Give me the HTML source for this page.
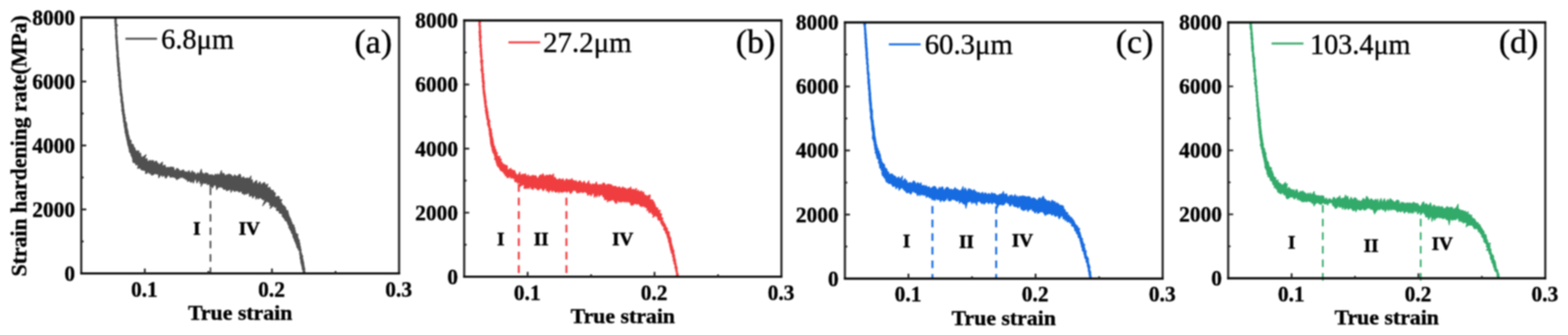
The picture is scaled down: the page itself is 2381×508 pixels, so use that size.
<!DOCTYPE html>
<html lang="en">
<head>
<meta charset="utf-8">
<title>Strain hardening rate vs true strain</title>
<style>
html,body{margin:0;padding:0;background:#fff;}
body{width:2381px;height:508px;overflow:hidden;font-family:"Liberation Serif","DejaVu Serif",serif;}
svg{display:block;}
#fig{width:2381px;height:508px;filter:blur(1px);}
</style>
</head>
<body>
<div id="fig">
<svg width="2381" height="508" viewBox="0 0 2381 508">
<rect width="2381" height="508" fill="#fff"/>
<g id="panel-a">
<path d="M319.6 405.6V414.5M319.6 385.4V396.7M319.6 365.2V376.5M319.6 345V356.3M319.6 324.8V336.1M319.6 304.6V315.9M319.6 284.4V295.7" fill="none" stroke="#505050" stroke-width="2.6"/>
<path d="M176.4 26.5L176.8 28.2L176.4 29.9L176.8 31.6L176.6 33.3L176.6 35.1L177.3 36.7L178.5 38.4L177 40.2L177.3 41.9L177.2 43.6L177.3 45.3L177.7 47L177.5 48.7L177.2 50.4L177.6 52.1L177.6 53.8L177.9 55.5L178.2 57.2L177.7 59L178.1 60.6L178.3 62.3L178.5 64L178.3 65.8L178.8 67.4L178.7 69.2L179.1 70.8L178.9 72.6L179.1 74.3L179 76L179.7 77.6L179.3 79.4L179.6 81.1L179.7 82.8L179.5 84.5L179.8 86.2L180.3 87.8L180.5 89.5L180.4 91.3L180.7 93L180.4 94.7L181.3 96.3L181.1 98L180.8 99.8L181.3 101.5L181.6 103.1L181.5 104.9L181.8 106.6L181.8 108.3L182.3 109.9L182.4 111.6L182.2 113.4L182.5 115L182.7 116.7L182.7 118.4L183.1 120.1L183.3 121.8L183.8 123.5L183.4 125.2L183.7 126.9L183.6 128.6L184 130.3L183.7 132L184.2 133.7L184.3 135.4L184.8 137.1L184.4 138.8L184.9 140.5L185.2 142.2L185.5 143.9L185.6 145.6L185.9 147.2L186.2 148.9L185.9 150.7L186 152.4L186.7 154L186.9 155.7L187.2 157.4L187.3 159.1L187.6 160.8L187.6 162.5L187.6 164.3L188.2 165.9L188.4 167.6L188.3 169.3L188.8 171L188.7 172.7L189.8 174.3L189.3 176.1L189.9 177.7L190.7 179.3L190 181.2L190.2 182.9L190.9 184.5L192 186L192.1 187.7L192.9 189.3L192.4 191.1L192.8 192.8L192.9 194.5L193.6 196.1L194 197.8L194.3 199.5L194.8 201.1L194.2 203L195.4 204.5L195.6 206.2L196.2 207.8L196.6 209.5L196.3 211.3L198.1 212.3L199.2 213.6L199.1 215.8L198.7 218.2L201 218.6L202.6 219.6L202.7 221.4L203.2 223.1L204.8 224.4L205.1 226L205.6 227.6L206.3 229.4L209.4 228.6L211.1 229.2L210.5 232.6L213.5 232.1L213.8 234.2L213.8 236.6L214.5 238.3L217.3 238L221.9 234.6L219.9 240L221 241.4L223.3 240.4L223.6 244.6L225.4 244.9L227.8 243L229.1 244.5L231.3 243.3L232.9 243.7L233.7 247.2L236.3 244.4L238 244.7L238.9 247.6L240.6 248L241.3 251L244.3 247.7L246.9 245.8L246 252.5L248.4 251.1L250.6 250.3L251.3 253L252.3 255.1L254.8 253.6L256.4 254.4L258.4 253.6L260.2 253.3L261.8 253.8L263.5 253.7L264.6 257.4L265.9 260.2L268.5 255.3L270.1 256L271.6 257.3L272.8 259.9L274.6 259.1L276.5 258.6L278.5 257.5L279.7 259.6L280.9 261.6L283.1 260.2L284.2 262.6L287 258.6L288.1 261.5L289.5 263.4L292.1 258.8L293.1 262.6L295.1 261.1L296.5 263.4L297.8 266.1L300.2 261.8L301.6 263.9L303.5 262.5L305.7 256.6L306.8 263.4L308.5 262.7L310.1 265.7L312 262.1L313.7 262.7L315.4 262.8L316.9 266.4L318.7 264.9L320.4 265.7L322.1 264.9L323.7 266.3L325.4 266.6L327.3 264L328.9 266.1L330.7 263.7L332.3 266.1L334.1 263.9L336.2 258.7L337.4 265.3L339.4 262.6L340.9 264.8L342.4 267.6L344.3 265L346 265.4L347.9 263.7L349.5 264.9L351.2 265.3L352.6 267.5L354.2 268.3L356.4 265.1L357.8 267.1L359.6 267.2L361.3 267.2L363.5 264.2L365.2 265L366 269.7L367.6 270.3L369.9 268L371 270.4L372.7 270.8L374.6 270.3L376.5 270L377.7 271.8L381.2 266.9L380.3 275.1L383 272.3L383.5 276.1L384.2 279.7L387.3 275.5L389.8 273.5L390.1 277.9L391.2 279.9L394.6 275.6L395.6 277.8L395.9 281.5L399.1 278.1L401.7 276.6L402.5 279.1L403.5 281.1L406.7 279.1L405.6 284L406.5 285.3L410 283.9L409.9 286.4L411.3 287.5L412.2 289L415.2 288.6L414.9 291.2L416.7 291.8L418.1 292.9L417.8 295.7L417.1 298.8L419.7 298.5L423 297.8L424.4 298.9L423.8 301.4L425.4 302.4L428.1 302.7L426.5 305.7L427.1 307.4L428.1 308.8L428.8 310.4L430 311.6L431.8 312.5L432.8 314L434.1 315.2L433.9 317.3L434.6 318.9L437.1 319.4L437.2 321.3L437.8 322.9L438 324.7L438.7 326.2L438.8 328L439.9 329.4L440.6 331L441.4 332.5L442.2 334L441.9 336L443.6 337.2L443.4 339.1L444.3 340.6L446.6 341.5L445.8 343.6L447.3 344.9L447.8 346.5L447.4 348.5L448.7 349.8L448.3 351.8L449.3 353.3L450.4 354.7L452.6 355.6L451.8 357.8L452.2 359.4L452.6 361.1L453.1 362.7L454.4 364.1L454.6 365.8L454.4 367.7L455.5 369.1L455.5 370.9L455.2 372.7L456.5 374.2L456.2 376L456.7 377.6L457.4 379.2L456.9 381L457 382.8L458.2 384.3L457.7 386.1L459.5 387.5L459.7 389.2L459.2 391L459.8 392.6L460.3 394.3L460.4 396L461.1 397.6L461.3 399.3L461.3 401L461.8 402.7L461.8 404.4L462.3 406.1L463.1 407.7L462.3 409.5L463 411.1L462.9 412.9L464 414.4L460.3 414.5L460.5 412.8L460.3 411.1L459.6 409.5L458.9 407.8L458.9 406.1L458.8 404.4L457.9 402.8L458.1 401L457.1 399.5L456.9 397.8L456.7 396.1L456.6 394.4L456.1 392.7L455.6 391L455.7 389.3L455.9 387.5L454.9 385.9L455.4 384.1L454.7 382.6L455.9 380.4L453.3 379.6L453.1 377.8L452.1 376.3L450.9 375L450.5 373.2L450.4 371.4L449.4 370L449 368.4L448.4 366.8L447.3 365.3L447 363.6L446.5 361.9L445.5 360.5L444.8 359L444.7 357.2L444.9 355.2L443.3 354.2L442.3 352.7L442.6 350.6L441.2 349.4L440.2 348L440 346.2L438.3 345.1L439.5 342.8L437.8 341.6L437.3 339.9L436.5 338.4L436.1 336.7L435.2 335.2L433.1 334.5L432.4 333L432.1 331.1L430.3 330.4L429.8 328.6L428.2 327.7L429.1 324.7L427.6 323.7L425.2 323.5L423.7 322.5L424.4 319.7L422.1 319.5L419.9 319.1L419.7 316.9L421 313.4L417.2 314.6L416.5 312.9L415.3 311.6L410.1 316.1L412.8 309.3L409.4 311.7L409.4 308.2L408.5 306.3L406.4 306.4L406.5 303.2L398.8 312L402.5 303.1L400.6 302.7L398.8 302.8L397.6 301.2L396.1 300.2L394.6 299.5L392.1 301.8L391.4 298.1L388.5 302L388 297.3L386.6 295.8L383.6 300.4L382.9 296.5L381.1 296.5L378.9 297.8L378.4 293.7L377.3 291.6L374.6 294.2L373.1 293.3L370.8 295.2L369.7 293L367.8 293.5L367 289.1L364.9 290.5L363 291.5L361.7 288.9L359.8 289.7L358.4 288.2L356.2 290.5L354.8 288.8L353.5 286.9L350.6 291.7L350.4 285.6L348 288.1L346.2 288.1L344.1 289.4L343.2 286.3L341.2 287L339.4 287L338.3 284.5L336.7 283.8L335 283.3L333.1 283.7L331.4 283.5L328.9 287.7L328.2 282.1L326.9 279.9L325 280.8L322.3 285L321.3 282.2L318.8 283.6L318.7 279.8L317.1 279.2L314.5 280.1L314.8 276.4L311.5 278.4L310.1 277.5L308.4 277.2L305.2 282.7L306.9 270.2L303.8 278.4L302.9 272.3L300.9 274.5L299 277.6L297.7 272.1L296 271.1L293.7 277.8L292.3 273.7L290.2 276.6L288.6 274.9L287.1 273.7L284.9 275.3L284 271.4L282.1 272.4L280.9 269.8L279 270.5L277.8 267.6L275.7 269.6L274.1 267.9L272.1 270.5L270.4 270.7L268.5 272.6L267 270.3L265.4 268.6L263.7 268.8L262.1 267.8L260.3 268.5L258.5 268.8L257.1 266L255.4 265.1L253.4 268.5L251.5 270.2L250.1 266.9L248.6 265L246.6 267.8L245.3 264.4L243.3 266.3L241 269.6L240.7 263L238.7 264.2L237.1 263.7L235.7 262.7L233.3 264.3L231.1 265.6L229.5 264.8L228.7 261.9L226.6 263.1L225.7 259.4L223.1 262.7L221.1 263.3L220.9 258.3L219.3 258.3L217.8 258L215.9 257.8L214.1 257.1L213.8 254.8L211.8 254.5L208.9 255.2L209.9 251.4L209.2 249.6L206.3 250.1L205.9 248.2L205.1 246.7L202.4 246.6L201.8 245L201.4 243.2L201.7 241.2L200.9 239.7L200.6 237.9L199.5 236.5L198.9 234.9L199 233L197.8 231.7L196.5 230.3L196.2 228.6L196.5 226.7L195.4 225.2L195.9 223.3L194.7 221.8L194.4 220.2L193.9 218.5L193.5 216.9L193.6 215.1L192.9 213.5L192.7 211.8L192 210.2L192.3 208.4L191.4 206.8L191 205.2L191.2 203.4L190.2 201.8L189.9 200.2L189.9 198.4L189.7 196.7L189.5 195L189.1 193.4L188.7 191.7L188.4 190L188.5 188.3L188.5 186.5L187.4 185L187.5 183.2L187.2 181.5L187.4 179.8L186.7 178.1L186.9 176.4L186.6 174.7L185.8 173.1L186.2 171.3L185.6 169.7L185.1 168L184.9 166.3L185.4 164.5L185.1 162.8L184.5 161.2L184.7 159.4L184.6 157.7L184.1 156.1L183.6 154.4L183.7 152.7L183.3 151L183.9 149.2L183.5 147.5L183.5 145.8L182.6 144.2L182.4 142.5L182.5 140.7L182.2 139.1L182.1 137.4L181.9 135.7L181.8 134L181.4 132.3L180.9 130.6L181.3 128.9L181.2 127.1L181.1 125.4L180.8 123.8L180.9 122L180.3 120.4L180.4 118.6L180.6 116.9L179.9 115.3L179.3 113.6L180 111.8L180.3 110.1L179 108.5L179.4 106.7L178.9 105L179.2 103.3L178.8 101.6L178.7 99.9L178.3 98.2L178.5 96.5L178.3 94.8L177.9 93.1L178.5 91.4L177.7 89.7L177.8 88L177.5 86.3L177.4 84.6L177.4 82.9L178.2 81.1L177.3 79.4L177.4 77.7L176.9 76L177 74.3L176.4 72.7L177 70.9L176.3 69.2L176.6 67.5L176.1 65.8L176.2 64.1L176.4 62.4L175.9 60.7L176.1 59L175.4 57.3L175.6 55.6L175.3 53.9L175.3 52.2L176 50.4L175.4 48.7L175.4 47L175.6 45.3L174.6 43.6L175 41.9L175.2 40.2L174.4 38.5L175 36.7L174.5 35.1L174.3 33.4L174.4 31.6L174.3 29.9L174.6 28.2L174.6 26.5Z" fill="#505050" stroke="#505050" stroke-width="1.4" stroke-linejoin="round"/>
<path d="M123.4 25.1V416.1M606 25.1V416.1" fill="none" stroke="#2a2a2a" stroke-width="3.3"/>
<path d="M122 26.5H607.4M122 414.7H607.4" fill="none" stroke="#0a0a0a" stroke-width="3.3"/>
<path d="M123.4 366.2h3.6M123.4 317.6h7.6M123.4 269.1h3.6M123.4 220.6h7.6M123.4 172.1h3.6M123.4 123.6h7.6M123.4 75h3.6M219.9 414.7v-7.4M316.4 414.7v-3.6M413 414.7v-7.4M509.5 414.7v-3.6" fill="none" stroke="#222" stroke-width="2.7"/>
<g font-family="'Liberation Serif', 'DejaVu Serif', serif" font-weight="700" font-size="32.5" fill="#000" stroke="#000" stroke-width="0.5" stroke-linejoin="round">
<text transform="translate(113.9 425.9) scale(1 1.055)" text-anchor="end">0</text>
<text transform="translate(113.9 328.8) scale(1 1.055)" text-anchor="end">2000</text>
<text transform="translate(113.9 231.8) scale(1 1.055)" text-anchor="end">4000</text>
<text transform="translate(113.9 134.8) scale(1 1.055)" text-anchor="end">6000</text>
<text transform="translate(113.9 37.7) scale(1 1.055)" text-anchor="end">8000</text>
<text transform="translate(219.3 449.6) scale(1 1.05)" text-anchor="middle">0.1</text>
<text transform="translate(412.4 449.6) scale(1 1.05)" text-anchor="middle">0.2</text>
<text transform="translate(605.4 449.6) scale(1 1.05)" text-anchor="middle">0.3</text>
<text x="364.7" y="484.7" text-anchor="middle" textLength="158.5" lengthAdjust="spacingAndGlyphs">True strain</text>
<text transform="translate(39.6 221.2) rotate(-90)" text-anchor="middle" font-size="34.5" textLength="396" lengthAdjust="spacingAndGlyphs">Strain hardening rate(MPa)</text>
</g>
<g font-family="'Liberation Serif', 'DejaVu Serif', serif" font-weight="700" font-size="29" fill="#000" stroke="#000" stroke-width="0.7" stroke-linejoin="round" text-anchor="middle">
<text x="299" y="356.2">I</text>
<text x="378.6" y="356.2">IV</text>
</g>
<line x1="190.5" y1="58.8" x2="238.5" y2="58.8" stroke="#505050" stroke-width="3"/>
<g font-family="'Liberation Serif', 'DejaVu Serif', serif" fill="#000" stroke="#000" stroke-width="0.55" stroke-linejoin="round">
<text x="244.7" y="74.1" font-size="45" textLength="110.6" lengthAdjust="spacingAndGlyphs">6.8μm</text>
<text x="595.3" y="80.2" text-anchor="end" font-size="51.5">(a)</text>
</g>
</g>
<g id="panel-b">
<path d="M787.8 402.2V414M787.8 381.7V393.5M787.8 361.2V373M787.8 340.7V352.5M787.8 320.2V332M787.8 299.7V311.5M787.8 279.2V291M860.1 402.2V414M860.1 381.7V393.5M860.1 361.2V373M860.1 340.7V352.5M860.1 320.2V332M860.1 299.7V311.5M860.1 288V291" fill="none" stroke="#f03e40" stroke-width="3.0"/>
<path d="M729.5 31L729.4 32.7L729.8 34.4L729.1 36.1L729.2 37.9L730 39.5L729.5 41.3L729.5 43L729.9 44.7L730 46.4L730.1 48.1L730.2 49.8L729.6 51.5L730.6 53.2L730.2 54.9L731.1 56.6L730.2 58.3L730 60.1L730.5 61.8L730.1 63.5L730.5 65.2L730.4 66.9L731.3 68.5L730.8 70.3L730.7 72L731.3 73.7L731.5 75.4L731.2 77.1L731.6 78.8L731.6 80.5L731.9 82.2L731.7 83.9L732 85.6L732.1 87.3L731.7 89L732.4 90.7L733.6 92.3L732.5 94.1L733 95.8L732.8 97.5L732.7 99.2L732.8 100.9L733.6 102.6L733.1 104.3L733.4 106L733.9 107.7L733.3 109.5L733.8 111.1L735 112.7L733.9 114.5L734.6 116.2L734.8 117.9L734.1 119.7L735.2 121.3L735 123L735.5 124.7L735.7 126.4L735.1 128.1L735.4 129.8L735.8 131.5L735.3 133.2L735.6 134.9L735.8 136.6L736.2 138.3L736.2 140L736.7 141.7L737 143.4L736.9 145.1L737.6 146.7L737.4 148.5L737.7 150.2L738.1 151.8L738.3 153.5L738.6 155.2L738.4 157L737.8 158.8L739.2 160.3L739 162.1L739.6 163.7L740.2 165.3L740.2 167.1L740.2 168.8L741.4 170.3L740.3 172.2L741.4 173.8L741.6 175.5L741.7 177.2L741.6 178.9L742.7 180.5L742.9 182.2L744.3 183.6L743.2 185.6L743.6 187.2L743.6 189L744.5 190.5L743.6 192.5L744.6 194L745.8 195.5L746.3 197.1L746.2 198.9L746.1 200.6L747.2 202.2L746.9 204L747.1 205.7L747.6 207.4L748.1 209L748.3 210.7L749 212.3L748.9 214.1L749.3 215.7L749.4 217.5L749.9 219.1L750 220.8L751.3 222.1L751.7 223.8L751.6 225.7L753.2 226.8L753.3 228.7L753.2 230.7L755.4 231.5L754.9 233.7L754.9 235.6L755.9 237L759.5 237.1L758 239.8L760.2 240.6L761.4 241.9L760.3 244.6L761.8 245.6L763 246.9L763 249.1L765.7 249L766.6 250.5L768.9 250.6L770.3 251.6L770.6 253.8L770.1 257.3L772 257.7L775.9 255.1L776 258.2L778.3 257.4L779 259.7L781.3 258.3L782.3 260.9L783.3 263.6L784.7 264.9L785.9 266.7L789.5 260.8L789.8 265.1L791.4 265.7L794 263.8L795.2 265.4L797.8 263.2L798.8 265.6L799.9 268.5L802.3 264.8L803.5 269.5L805.4 266.7L807 268.1L808.9 265.5L810.5 266.8L812.3 266.4L814 266.6L815.5 270.5L817.3 270.2L819.1 266.9L820.9 265.1L822.5 266.8L824.4 263.3L826 266.5L827.6 268.4L829.5 265.5L831.1 266.1L832.9 266.1L834.7 265L836.5 265.6L838.1 266.8L840.6 263.6L840.8 270.5L843 268.8L844.1 271.6L845.7 272.1L847.3 273.2L849.5 270.8L851.1 272.1L852.7 273.2L854.6 271L856.1 273.3L857.6 276.6L859.7 271.3L861.4 271.8L862.9 274.1L864.8 272.3L866.3 274L868.5 270.7L869.6 274.5L871.5 273.4L872.9 275.7L875 273.7L876.1 276.8L877.9 276.4L880.1 274L881.7 274.9L883 277L884.5 278L887.1 274.6L888.2 277.1L889.3 279.4L891.5 278.1L894.3 274.1L894.5 280.2L896.6 278.4L897.6 282.3L900.1 278.4L901.6 279.8L903.3 279.8L905.7 275.8L906.7 280.3L908.4 280.2L910 280.4L911.7 279.5L913.4 281.9L915.1 278.4L916.8 277.3L918.5 278.9L920.2 282.5L921.9 280L923.6 279.3L925.3 279.7L927 280.1L928.8 280.2L930.2 283.6L932 282.3L933.6 283L935.5 282.5L936.7 285L938.6 284.2L940.6 283.2L942 285L943.4 286.5L945.7 283.3L947.1 285.2L948.9 285.2L950.5 285.9L951.6 288.8L954 285.5L955.6 286.5L958 283.5L958.7 288L960.6 287.4L962.5 286.7L963.8 289.2L966.4 285.5L966.7 292L969.4 288.1L970.3 291L972.2 290.6L974.4 289.5L974.7 292.7L977.6 291L977.8 293.8L978.6 295.6L980.5 296L981.7 297.4L984.1 296.9L987.1 295.4L987.3 298.5L986.2 302.9L988.1 302.8L989.9 303L991.7 303.6L991.8 305.5L993.5 306.6L993.9 308.4L994.4 310.1L995.3 311.6L995.2 313.6L996.6 314.8L998.9 315.4L999 317.3L999 319.3L1002.8 319L1001.4 321.9L1002 323.5L1004.5 324.2L1004.5 326.1L1004 328.1L1004.3 329.8L1006.7 330.7L1006 332.8L1005.8 334.8L1007.8 335.8L1007.9 337.6L1009.1 338.9L1010.1 340.4L1010.7 342L1011.1 343.7L1012 345.1L1013.6 346.3L1013.3 348.2L1013.6 350L1015.2 351.2L1016.7 352.4L1015.5 354.7L1016.8 356.1L1016.4 358L1017.6 359.4L1018.6 360.9L1018.8 362.6L1018.9 364.3L1019.5 365.9L1019.2 367.8L1019.7 369.4L1020.5 371L1020.4 372.7L1021.5 374.2L1021.5 376L1021.9 377.6L1023 379.1L1023.5 380.8L1023.4 382.5L1023 384.4L1024.1 385.9L1024.5 387.5L1024.3 389.3L1024.8 391L1025 392.7L1026 394.2L1025.9 396L1026 397.7L1026.7 399.3L1026.9 401L1027 402.7L1027.7 404.3L1028.3 405.9L1028.2 407.7L1028 409.5L1028.6 411.1L1028.7 412.8L1029.1 414.5L1030.1 416L1029.7 417.8L1030 419.5L1027.6 419.5L1027.2 417.9L1027.2 416.1L1027.1 414.4L1027 412.7L1026.3 411.1L1025.8 409.5L1026.5 407.6L1024.5 406.3L1025.4 404.3L1024.6 402.7L1024.8 400.9L1023.2 399.6L1023.9 397.6L1022.8 396.2L1022.1 394.6L1022.3 392.8L1022.4 391L1021 389.6L1021.3 387.8L1021.1 386.1L1020.5 384.4L1019 383.1L1019.7 381.1L1018.4 379.7L1017.9 378.1L1018 376.3L1017.2 374.7L1016.9 373L1016.9 371.3L1016.2 369.7L1016.2 367.9L1014.9 366.5L1015.2 364.6L1014.6 363L1014.2 361.4L1013.4 359.9L1013.2 358.1L1012.5 356.6L1012.6 354.7L1010.7 353.7L1010.6 351.8L1010.2 350.1L1008.8 348.9L1007.6 347.5L1008.3 345.4L1008.2 343.5L1005.6 342.7L1005.7 340.8L1004.2 339.6L1003.5 338.1L1003.1 336.4L1003.2 334.3L1000.8 334L999.2 333.3L998.7 331.4L999 328.6L996.8 328.4L996.6 325.9L991.2 329.7L992.4 325.5L990.7 324.8L989.4 323.7L989.8 320.6L985.7 322.8L984.9 321.2L985.3 317.9L982.1 319.2L983.3 315.1L981.1 315L979.6 314L977.9 313.1L976.6 312L974.3 313.3L973.1 312.7L971.7 312L970.5 308.9L968.7 309.1L966.9 309.8L965.3 308.4L963.4 308.9L961.4 310.5L959.5 311.3L957.8 310.6L957.2 306L955.2 307.1L954.3 304.4L951.6 306.8L950.5 304.6L948.1 306.5L946.8 304.8L945 305.4L943.2 306.6L941.6 305.1L939.9 306.4L938.2 301.9L936.4 308.3L934.7 308L932.9 305.2L931.2 302.4L929.6 303.2L928 303.2L926.4 304.6L925 303.9L922.1 306.3L922.6 301.9L919.8 302.8L917.7 302.6L918.1 299L915.9 298.9L915.3 296.4L913.8 295.1L911.7 295.7L909.4 298L908.8 292.3L905.9 298.7L904.7 295.4L902.4 299.4L901.7 292.1L899.9 293L897.5 297.2L896.2 294.3L894.4 294.8L892.4 296.3L891.4 292.2L889.7 291.9L888.2 290.2L886.2 291.8L884.5 292L882.9 290.5L881.1 291.6L879.4 291.9L877.6 292.4L875.9 292.6L874.5 288.5L872.7 289L871 287.7L869.2 290L867.5 292.5L865.8 293.3L864.1 289.3L862.4 289.7L860.6 291.7L858.9 288.1L857.2 290.7L855.5 290.3L853.8 291.5L852.1 291.5L850.4 288.9L848.7 292.4L847.1 289L845.3 291.3L843.5 291.4L842 289.9L840.5 287.9L838.4 290.9L837.1 287.7L835.3 288.3L833.2 292L831.9 287.9L830 289.8L828.8 284.2L826.9 286.4L824.9 289.4L823.4 287.2L821.9 285L820.1 285.6L818.2 287.5L816.4 288.2L814.9 285.3L813.2 285.5L811.6 283L809.5 287.4L808 285.8L806.3 286.1L805.4 280.6L802.9 286L801.7 284.3L799.5 285.9L797.8 285.3L795.7 285.7L796.1 280.9L794.9 279.7L792.1 281.1L788.4 283.5L789.3 279L789.2 276.4L785.9 278L785.9 275.6L783 275.8L781.4 274.8L781.5 272.5L781.5 269.9L778.8 270.8L778 268.6L775.5 270.4L774.9 266.9L772.2 269L770 269.6L769.6 266.3L767.4 266.7L766.9 264.1L765.3 263.5L765 261.3L763.4 260.8L762.7 259.3L760.5 258.9L759.5 257.5L758.8 255.9L758.4 254.1L756.4 253.3L756 251.6L754.4 250.5L754.5 248.6L754 247L753 245.5L753.7 243.5L751.7 242.3L750.9 240.8L751.8 238.7L751.1 237.1L750.7 235.4L750.1 233.8L749.5 232.2L748 230.9L748.2 229L747.1 227.6L747.1 225.8L747.2 224L746.1 222.5L745.8 220.9L745.4 219.2L745 217.6L744.9 215.9L744.6 214.2L744.8 212.5L744.1 210.8L744.9 209L743.7 207.4L743.5 205.7L743.4 204L742.8 202.4L743.3 200.6L742.9 198.9L742.4 197.3L742.4 195.5L742.4 193.8L741.4 192.3L741.3 190.5L740.1 189L740.4 187.2L740 185.6L740.8 183.7L739.7 182.1L739.1 180.5L738.9 178.8L738.8 177.1L738.3 175.5L738.7 173.7L737.4 172.2L737.8 170.4L737.1 168.8L736.9 167.1L737.3 165.3L737.2 163.6L736.1 162L736.6 160.2L736 158.6L736 156.9L735.5 155.2L735.7 153.5L735.1 151.8L735.1 150.1L735.2 148.4L734.6 146.7L734.3 145L734.4 143.3L733.6 141.7L734 139.9L733.4 138.3L733.6 136.5L733.2 134.8L733.4 133.1L732.6 131.5L733 129.7L733 128L733 126.3L732.6 124.6L732 123L732.6 121.2L732.1 119.6L732.1 117.8L731.8 116.2L731.9 114.4L732 112.7L731.5 111.1L731.3 109.4L730.9 107.7L730.1 106L730.7 104.3L731.2 102.5L730.9 100.8L730.7 99.2L730.5 97.5L730.5 95.7L729.6 94.1L729.9 92.4L730.1 90.6L730.2 88.9L730.4 87.2L729.5 85.6L729.8 83.8L729.2 82.2L729.5 80.4L729.1 78.7L728.9 77.1L729.5 75.3L729.1 73.6L728.8 71.9L728.1 70.3L728.6 68.5L728.6 66.8L728.6 65.1L728.4 63.4L728.3 61.7L727.6 60L728 58.3L728.1 56.6L727.7 54.9L727.6 53.2L727.8 51.5L727.5 49.8L727.1 48.1L728.1 46.3L727.8 44.6L727.7 42.9L727.7 41.2L727.5 39.5L727.2 37.8L727.1 36.1L727.3 34.4L727 32.7L727.2 31Z" fill="#f03e40" stroke="#f03e40" stroke-width="1.4" stroke-linejoin="round"/>
<path d="M704.9 29.6V421.1M1186.6 29.6V421.1" fill="none" stroke="#2a2a2a" stroke-width="3.3"/>
<path d="M703.5 31H1188M703.5 419.7H1188" fill="none" stroke="#0a0a0a" stroke-width="3.3"/>
<path d="M704.9 371.1h3.6M704.9 322.5h7.6M704.9 273.9h3.6M704.9 225.3h7.6M704.9 176.8h3.6M704.9 128.2h7.6M704.9 79.6h3.6M801.2 419.7v-7.4M897.6 419.7v-3.6M993.9 419.7v-7.4M1090.3 419.7v-3.6" fill="none" stroke="#222" stroke-width="2.7"/>
<g font-family="'Liberation Serif', 'DejaVu Serif', serif" font-weight="700" font-size="32.5" fill="#000" stroke="#000" stroke-width="0.5" stroke-linejoin="round">
<text transform="translate(695.4 430.9) scale(1 1.055)" text-anchor="end">0</text>
<text transform="translate(695.4 333.7) scale(1 1.055)" text-anchor="end">2000</text>
<text transform="translate(695.4 236.5) scale(1 1.055)" text-anchor="end">4000</text>
<text transform="translate(695.4 139.4) scale(1 1.055)" text-anchor="end">6000</text>
<text transform="translate(695.4 42.2) scale(1 1.055)" text-anchor="end">8000</text>
<text transform="translate(800.6 454.6) scale(1 1.05)" text-anchor="middle">0.1</text>
<text transform="translate(993.3 454.6) scale(1 1.05)" text-anchor="middle">0.2</text>
<text transform="translate(1186 454.6) scale(1 1.05)" text-anchor="middle">0.3</text>
<text x="945.8" y="489.7" text-anchor="middle" textLength="158.5" lengthAdjust="spacingAndGlyphs">True strain</text>
</g>
<g font-family="'Liberation Serif', 'DejaVu Serif', serif" font-weight="700" font-size="29" fill="#000" stroke="#000" stroke-width="0.7" stroke-linejoin="round" text-anchor="middle">
<text x="760.5" y="371.5">I</text>
<text x="821.8" y="371.5">II</text>
<text x="945.6" y="371.8">IV</text>
</g>
<line x1="772" y1="64.2" x2="820.3" y2="64.2" stroke="#f03e40" stroke-width="3"/>
<g font-family="'Liberation Serif', 'DejaVu Serif', serif" fill="#000" stroke="#000" stroke-width="0.55" stroke-linejoin="round">
<text x="824.7" y="78.6" font-size="45" textLength="134.4" lengthAdjust="spacingAndGlyphs">27.2μm</text>
<text x="1177.3" y="80.2" text-anchor="end" font-size="51.5">(b)</text>
</g>
</g>
<g id="panel-c">
<path d="M1415.9 415.5V422.5M1415.9 394.9V406.5M1415.9 374.3V385.9M1415.9 353.7V365.3M1415.9 333.1V344.7M1415.9 312.5V324.1M1415.9 298V303.5M1512.7 415.5V422.5M1512.7 394.9V406.5M1512.7 374.3V385.9M1512.7 353.7V365.3M1512.7 333.1V344.7M1512.7 312.5V324.1" fill="none" stroke="#176be0" stroke-width="3.0"/>
<path d="M1314.4 34L1314.4 35.7L1314.4 37.4L1314.1 39.1L1314 40.8L1314.7 42.5L1314.4 44.2L1314.9 45.9L1314.9 47.6L1315 49.3L1315.2 51L1315.4 52.7L1315.7 54.4L1315.4 56.1L1315.5 57.8L1316.2 59.5L1315.9 61.2L1315.9 62.9L1316.1 64.6L1316.2 66.3L1316.5 68L1316.3 69.8L1316.6 71.4L1316.9 73.1L1317.1 74.8L1316.9 76.5L1317 78.3L1317.5 79.9L1317.4 81.6L1317.3 83.4L1317.4 85.1L1317.5 86.8L1317.6 88.5L1318.3 90.1L1317.8 91.9L1317.8 93.6L1318.1 95.3L1318.3 97L1318.4 98.7L1318.8 100.3L1318.7 102.1L1318.4 103.8L1318.7 105.5L1318.7 107.2L1319.2 108.9L1319.5 110.6L1319.9 112.2L1319.8 114L1319.8 115.7L1319.6 117.4L1319.7 119.1L1320.6 120.7L1320.5 122.5L1320.5 124.2L1320.6 125.9L1320.8 127.6L1320.9 129.3L1321.1 131L1321.1 132.7L1321.3 134.4L1321.5 136.1L1321.6 137.8L1321.8 139.4L1322 141.1L1322.3 142.8L1322 144.6L1322.3 146.3L1322.4 148L1322.6 149.7L1322.4 151.4L1323.1 153L1322.7 154.8L1323.4 156.4L1323.4 158.2L1323.4 159.9L1323.6 161.6L1323.3 163.3L1324.1 164.9L1324.4 166.6L1324.9 168.3L1325 170L1324.4 171.8L1325.1 173.4L1324.5 175.2L1324.9 176.8L1325 178.6L1325 180.3L1325.6 181.9L1326.2 183.6L1326 185.3L1326.2 187L1326.4 188.7L1326.9 190.4L1326.9 192.1L1327.3 193.8L1327.9 195.5L1327.6 197.2L1328 198.9L1328 200.6L1328.2 202.3L1328.4 204L1328.2 205.8L1329.1 207.4L1329 209.1L1329.7 210.7L1329.8 212.4L1329.8 214.2L1330.7 215.7L1329.9 217.6L1331.2 219L1331.6 220.7L1331.9 222.4L1331.9 224.2L1333.6 225.4L1332.8 227.6L1334.6 228.7L1335.3 230.3L1335.1 232.1L1336.5 233.4L1336.7 235.2L1337.3 236.8L1336.9 238.7L1337.7 240.3L1338.4 241.8L1338.6 243.6L1339 245.2L1340.1 246.7L1341 248.1L1342.9 249.2L1343.3 250.9L1343.4 252.7L1343.4 254.7L1345.7 255.3L1346.7 256.6L1347.2 258.5L1347.4 260.5L1349.5 261L1349.6 263.4L1350.9 264.6L1353.6 263.7L1355.3 264.2L1356.2 265.9L1357.8 266.7L1359.4 267.3L1360.6 268.7L1361.3 271.2L1364.7 268.2L1365.8 269.8L1366.2 273L1370.5 267L1369.7 273.6L1371.1 274.8L1374.4 270.7L1375.1 273.8L1376.9 273.7L1377.6 277.2L1379.1 278.2L1381.2 276.9L1383 277L1384.2 279.2L1387 274.5L1388.6 275L1389.9 277.1L1391 280.5L1393.4 276.9L1394.9 277.8L1396.3 279.7L1398.6 277.1L1399.3 282L1401.1 281.8L1403.1 280.9L1404.2 283.3L1406.6 281.3L1407.5 284.2L1409.5 283.6L1411.3 283.2L1412.5 286.4L1414.4 285.4L1416.2 283.9L1418 282.8L1419.7 282.8L1421.3 284.7L1422.9 287.7L1424.6 287.4L1426.5 283.7L1428 287.1L1430 283.4L1431.7 283.7L1432.8 288.5L1434.5 288L1436.9 284.6L1438.7 284L1440.3 285.1L1441.5 288L1443.4 286.9L1445 287.1L1446.7 288.4L1448.4 287.4L1450.3 284.3L1451.8 287.7L1453.6 286.8L1455.2 288.4L1456.9 288.9L1458.6 289.1L1460.4 287.5L1462.4 282.9L1463.6 291.2L1465.7 284.9L1467.2 288.2L1468.6 291.8L1470.8 285.9L1472.4 287L1474.1 287.1L1475.7 289L1477.4 289.4L1479.3 287.6L1480.7 290.4L1482.4 290.4L1483.6 293.4L1485.6 291.6L1487.2 292.3L1488.4 294.5L1490.7 292.4L1492.6 291.7L1493.3 296.2L1495.9 292.3L1497.5 293.4L1498.8 295.9L1500.9 293.4L1502.5 294L1504.1 296.1L1506 292.1L1507.6 294.5L1509.4 293.3L1511 294L1512.7 295.7L1514.4 296.5L1516 296.3L1517.8 294.7L1519.6 294.4L1521.3 294.5L1523.8 290.3L1524.5 295.9L1526.6 294.5L1528.4 293.8L1529.6 296.8L1530.9 300.6L1533.1 296.5L1534.7 296.7L1536.5 295.7L1538.1 298.8L1539.8 297.6L1541.6 295L1543.1 299.8L1545 297.1L1546.5 300.8L1548.4 297.3L1550 298.3L1551.8 297.4L1553.6 297L1555.2 298.1L1557 297.7L1558.5 299.3L1560.4 298.3L1562.1 298.3L1563.7 298.4L1565.2 300.5L1566.7 302.2L1568.7 299.9L1570.3 300.5L1572 301.4L1573.5 303L1575.1 304.8L1577.1 301.1L1579 299.7L1580.3 303.3L1582.5 299.6L1584.6 297.6L1585.7 301.7L1587.4 302.1L1588.8 304L1590.3 305L1592.1 304.8L1593.8 304.7L1594.4 308.7L1597.7 303.6L1599.1 304.9L1600.5 306.1L1602.5 306L1602.9 309.6L1605.7 307.6L1606.7 309.4L1608.4 309.9L1608.9 312.3L1611.5 311.2L1613 312L1614.8 312.7L1615.1 314.7L1615.1 317L1617 317.7L1617.7 319.4L1618 321.4L1619.9 322.1L1621.6 322.8L1620.8 326.2L1623.3 326.1L1624.1 327.7L1624.6 329.3L1627 329.4L1627.1 331.2L1629 332.1L1629.5 333.8L1630.9 334.9L1631.2 336.7L1632.3 338.1L1632.4 340.1L1634.2 340.9L1635 342.4L1636.8 343.4L1635.9 345.7L1639.1 346.1L1639.4 347.9L1638.2 350.2L1639.5 351.6L1640.3 353.1L1640.5 354.8L1641.1 356.4L1641.5 358.1L1641.7 359.8L1642.8 361.2L1644.1 362.6L1643.3 364.7L1644.2 366.2L1645.1 367.7L1644.3 369.7L1647.3 370.6L1646.3 372.7L1646.7 374.3L1647 376L1647.8 377.5L1647.1 379.5L1649.7 380.6L1648.8 382.6L1649.4 384.2L1649.2 386L1649.7 387.6L1650.7 389.1L1651.9 390.6L1652.5 392.2L1653 393.8L1652.2 395.8L1653.3 397.3L1652.7 399.2L1653.6 400.7L1654.5 402.3L1654.6 404L1655.5 405.5L1654.4 407.5L1655 409.1L1655.1 410.8L1656.4 412.3L1656.3 414.1L1656.1 415.8L1656.7 417.5L1656.8 419.2L1657 420.9L1657.7 422.5L1654.8 422.5L1655.1 420.8L1654.1 419.2L1654.1 417.5L1653.4 415.9L1653.6 414.1L1653.3 412.4L1652.4 410.8L1652.5 409.1L1652.7 407.3L1651.8 405.8L1651.6 404L1650.7 402.5L1651.5 400.6L1650.4 399.1L1649.6 397.5L1648.8 396L1649.8 393.9L1648.2 392.6L1647.4 391.1L1646.8 389.4L1647.1 387.6L1646.2 386.1L1645.6 384.5L1646.3 382.5L1644.6 381.2L1643.5 379.8L1643.3 378L1643.6 376.2L1642.3 374.8L1641.9 373.1L1642.1 371.3L1641.2 369.8L1640.7 368.2L1641 366.2L1639.6 364.9L1640 362.9L1639.4 361.3L1637.6 360.2L1636.9 358.7L1637.4 356.6L1636.2 355.2L1634.7 354.1L1634.2 352.4L1634.1 350.6L1631.9 349.7L1632 347.8L1631.4 346.2L1630.9 344.5L1629.8 343.1L1627.4 342.7L1627 341.2L1628 337.5L1624.8 338.6L1624.8 335.4L1622 336.6L1620.3 336.3L1620 332.8L1617.3 334.5L1617.7 331.3L1614.7 332.2L1614.1 330.2L1613.6 327.6L1611.7 326.9L1608.4 331.9L1607.4 329.8L1606.4 326.3L1604.5 327L1602.5 328.3L1601 326.5L1599.6 324L1597.4 326.5L1596 324.6L1594.4 323.8L1592.6 323.8L1590.8 324.8L1589 324.9L1587.1 326.7L1585.7 324.1L1584.2 322.4L1582.9 320.3L1581.1 321.3L1579.5 321.1L1577.3 323L1575.3 323.5L1575.1 318.9L1571.8 323.1L1570.6 321.4L1569.5 319.2L1567.6 319.6L1566.8 315.7L1564.5 317.6L1562.6 318.2L1560.6 320.7L1559.5 315.8L1557.5 317.9L1555.7 318.6L1553.8 319.3L1552.3 317.9L1550.6 317.4L1549.6 314.4L1549.5 310.5L1546 315.4L1545 313.7L1543.2 313.3L1541.1 313.2L1539.4 312.5L1538.3 310.9L1538 307.2L1534.6 312L1533.3 312.5L1531.9 307.9L1530.3 308.5L1528.6 306.2L1526.9 307L1525.2 309.7L1523.4 310.8L1521.7 310.7L1520 309.5L1518.2 310.4L1516.5 310.4L1514.5 315.2L1513.2 309L1511.5 308.5L1510.1 306.3L1508.3 307L1506.2 309.5L1504.9 306.6L1503.1 307.2L1501.2 308.9L1499.7 306.8L1498 306.1L1496.2 307.7L1494.3 309.8L1492.8 306.7L1491 309L1489.4 307.1L1487.7 305.1L1485.9 305.5L1484.1 305.6L1483.1 311.3L1480.5 305.3L1479.2 308L1477.4 305.3L1475.7 309L1474.2 304L1472.4 305.9L1470.7 306.1L1469 306.8L1466.7 315.7L1465.5 308L1463.7 309.7L1462.1 308.2L1460.5 306.6L1459.1 304.8L1456.8 308.4L1456.3 301.6L1453.8 305.3L1452.2 304.6L1450.7 303.4L1449 302.7L1447.2 302.4L1445.5 301.9L1443.6 304.5L1441.9 304.5L1440.2 304.3L1438.7 297.8L1436.8 302.8L1435.1 303.7L1433.3 305.6L1431.7 303.3L1430 303.2L1428 306L1426.8 302L1425.1 302.5L1423.2 302.9L1422.2 299.8L1419.4 304.1L1418 302.7L1416.4 302.2L1414.9 301L1413.5 299.5L1411.6 300L1410.4 298.4L1409 297L1406.4 299.6L1406.3 294.5L1403.8 296.5L1402.6 294.7L1400.4 295.9L1399.3 293.4L1396.7 296.7L1395.7 293.6L1393.1 296.8L1392.2 293.5L1390.6 292.5L1389.1 291.7L1387.5 291.2L1386.5 288.3L1383.1 294.5L1381.7 293.2L1380.6 290.9L1378.3 292.3L1376.5 292.4L1375.6 289.8L1373.9 289.3L1372.7 287.7L1371.3 286.6L1370.4 284L1368.2 285L1365.1 288.6L1364.7 284.6L1363.5 283.3L1360.4 286.2L1360 282.8L1358.7 281.8L1356.2 282.8L1355 281.5L1354.1 279.6L1353.2 278L1350.9 278.4L1348.9 278.1L1348.1 276.2L1345.9 276L1345.3 274L1344.5 272.5L1344.8 270.3L1342.6 269.8L1342.1 268.3L1341.4 266.8L1339.4 265.8L1339.9 263.8L1338.7 262.4L1340 260.1L1338.5 258.8L1337.9 257.1L1337.6 255.4L1335.5 254.2L1336.1 252.2L1335.2 250.6L1336.1 248.5L1334 247.4L1333.9 245.6L1334.6 243.6L1333.8 242.1L1332.6 240.6L1331.1 239.3L1332.1 237.2L1330.4 236L1331.1 234L1329.7 232.6L1328.6 231.1L1330 229L1328.7 227.6L1328.4 225.9L1328.1 224.2L1328.1 222.5L1327.8 220.8L1327.2 219.2L1327.6 217.4L1326.9 215.8L1326.7 214.1L1326 212.5L1325.5 210.8L1324.4 209.2L1325.1 207.4L1325 205.7L1325 204L1325.6 202.2L1324.8 200.6L1324.5 198.9L1324.3 197.2L1323.6 195.6L1323.9 193.8L1323.7 192.1L1323.6 190.4L1323.2 188.7L1323.5 187L1322.9 185.3L1322.9 183.6L1322.6 181.9L1322 180.3L1321.8 178.6L1321.6 176.9L1322.2 175.1L1321.9 173.4L1321.9 171.7L1321.6 170.1L1321.1 168.4L1321.3 166.7L1320.6 165L1321.4 163.2L1320.8 161.6L1320.7 159.9L1320.6 158.2L1320.2 156.5L1320.2 154.8L1320.1 153.1L1319.6 151.4L1319.9 149.7L1319.8 148L1319.8 146.2L1319.4 144.6L1319.2 142.9L1319.6 141.1L1319.4 139.4L1319.1 137.7L1319.1 136L1318.4 134.4L1318.7 132.6L1318.8 130.9L1318.3 129.3L1318.4 127.5L1317.8 125.9L1317.8 124.2L1318 122.4L1317.9 120.7L1317.8 119L1317.4 117.4L1317.9 115.6L1317.6 113.9L1317 112.3L1317 110.5L1316.9 108.9L1316.9 107.1L1316.7 105.4L1316.3 103.8L1316.6 102L1316.6 100.3L1316.9 98.6L1315.7 97L1316 95.2L1315.8 93.5L1316.1 91.8L1315.5 90.1L1315.3 88.4L1315.1 86.8L1315.4 85L1314.6 83.4L1315.2 81.6L1315 79.9L1315 78.2L1314.6 76.5L1314.5 74.8L1314.5 73.1L1313.9 71.5L1314.3 69.7L1313.9 68L1314.1 66.3L1313.3 64.7L1314.1 62.9L1313.4 61.2L1313.8 59.5L1313.2 57.8L1313.1 56.1L1313.4 54.4L1313.2 52.7L1312.7 51L1313.1 49.3L1312.9 47.6L1312.7 45.9L1312.6 44.2L1312.6 42.5L1312.5 40.8L1312.1 39.1L1311.6 37.4L1311.8 35.7L1312.2 34Z" fill="#176be0" stroke="#176be0" stroke-width="1.4" stroke-linejoin="round"/>
<path d="M1283 32.6V423.9M1765.5 32.6V423.9" fill="none" stroke="#2a2a2a" stroke-width="3.3"/>
<path d="M1281.6 34H1766.9M1281.6 422.5H1766.9" fill="none" stroke="#0a0a0a" stroke-width="3.3"/>
<path d="M1283 373.9h3.6M1283 325.4h7.6M1283 276.8h3.6M1283 228.2h7.6M1283 179.7h3.6M1283 131.1h7.6M1283 82.6h3.6M1379.5 422.5v-7.4M1476 422.5v-3.6M1572.5 422.5v-7.4M1669 422.5v-3.6" fill="none" stroke="#222" stroke-width="2.7"/>
<g font-family="'Liberation Serif', 'DejaVu Serif', serif" font-weight="700" font-size="32.5" fill="#000" stroke="#000" stroke-width="0.5" stroke-linejoin="round">
<text transform="translate(1273.5 433.7) scale(1 1.055)" text-anchor="end">0</text>
<text transform="translate(1273.5 336.6) scale(1 1.055)" text-anchor="end">2000</text>
<text transform="translate(1273.5 239.4) scale(1 1.055)" text-anchor="end">4000</text>
<text transform="translate(1273.5 142.3) scale(1 1.055)" text-anchor="end">6000</text>
<text transform="translate(1273.5 45.2) scale(1 1.055)" text-anchor="end">8000</text>
<text transform="translate(1378.9 457.4) scale(1 1.05)" text-anchor="middle">0.1</text>
<text transform="translate(1571.9 457.4) scale(1 1.05)" text-anchor="middle">0.2</text>
<text transform="translate(1764.9 457.4) scale(1 1.05)" text-anchor="middle">0.3</text>
<text x="1524.2" y="492.5" text-anchor="middle" textLength="158.5" lengthAdjust="spacingAndGlyphs">True strain</text>
</g>
<g font-family="'Liberation Serif', 'DejaVu Serif', serif" font-weight="700" font-size="29" fill="#000" stroke="#000" stroke-width="0.7" stroke-linejoin="round" text-anchor="middle">
<text x="1376.7" y="374.5">I</text>
<text x="1467.6" y="376">II</text>
<text x="1552.7" y="374.2">IV</text>
</g>
<line x1="1349.7" y1="67.2" x2="1398" y2="67.2" stroke="#176be0" stroke-width="3"/>
<g font-family="'Liberation Serif', 'DejaVu Serif', serif" fill="#000" stroke="#000" stroke-width="0.55" stroke-linejoin="round">
<text x="1404.3" y="81.6" font-size="45" textLength="133.6" lengthAdjust="spacingAndGlyphs">60.3μm</text>
<text x="1751.4" y="80.2" text-anchor="end" font-size="51.5">(c)</text>
</g>
</g>
<g id="panel-d">
<path d="M2008.7 414.1V425.5M2008.7 393.5V405M2008.7 372.9V384.4M2008.7 352.3V363.8M2008.7 331.7V343.2M2008.7 311.1V322.6M2157.3 414.1V425.5M2157.3 393.5V405M2157.3 372.9V384.4M2157.3 352.3V363.8M2157.3 331.7V343.2M2157.3 320V322.6" fill="none" stroke="#32aa6a" stroke-width="2.6"/>
<path d="M1900 34L1900.6 35.7L1900.3 37.4L1900.7 39.1L1900.9 40.8L1900.7 42.5L1901.1 44.2L1901.2 45.9L1901 47.6L1901.9 49.3L1901.4 51L1902.2 52.7L1901.5 54.4L1902.2 56.1L1902.2 57.8L1902.7 59.5L1902.4 61.2L1902 62.9L1902.7 64.6L1902.7 66.3L1902.8 68L1903.4 69.7L1903.1 71.4L1903.6 73.1L1903.4 74.8L1903.4 76.5L1903.2 78.2L1903.9 79.9L1903.8 81.6L1904.3 83.3L1904.4 85L1904.6 86.7L1905.8 88.3L1904.8 90.1L1905.4 91.7L1905.4 93.4L1905.1 95.2L1905.5 96.8L1905.4 98.6L1905.9 100.2L1905.6 102L1905.7 103.7L1906.3 105.3L1906.9 107L1906.2 108.8L1906.6 110.4L1906.4 112.2L1906.8 113.8L1907 115.5L1907.4 117.2L1907.2 118.9L1907.6 120.6L1908.2 122.3L1907.9 124L1908.1 125.7L1907.6 127.5L1908.2 129.1L1908.7 130.8L1908.8 132.5L1908.7 134.2L1908.8 135.9L1908.8 137.6L1909.3 139.3L1909.8 140.9L1908.7 142.8L1909.9 144.4L1910 146.1L1909.3 147.8L1910.2 149.5L1910.3 151.2L1910.1 152.9L1910.5 154.6L1910.8 156.3L1910.9 158L1910.9 159.7L1911.1 161.4L1911.6 163L1911.8 164.7L1912.2 166.4L1912.1 168.1L1912.4 169.8L1913 171.5L1912.3 173.2L1912.7 174.9L1912.9 176.6L1913.1 178.3L1913.2 180L1914.1 181.6L1914 183.4L1913.6 185.1L1914.4 186.7L1914.1 188.5L1913.8 190.3L1914.5 191.9L1914.5 193.6L1914.8 195.3L1915 197L1915.3 198.7L1915.5 200.4L1915.5 202.1L1915.7 203.8L1916.4 205.4L1915.9 207.2L1916.8 208.8L1916.8 210.5L1917.2 212.2L1917.4 213.9L1917.6 215.6L1918 217.2L1918.6 218.8L1918.2 220.6L1918.4 222.4L1918.6 224.1L1920.3 225.4L1920.3 227.2L1921 228.8L1920.7 230.6L1922.4 231.9L1922.5 233.6L1922.2 235.5L1922.3 237.2L1923 238.8L1923.4 240.5L1923.6 242.2L1924 243.9L1925.5 245.2L1926.3 246.7L1926.4 248.4L1926.7 250.1L1927.1 251.8L1927.7 253.4L1930.3 254.1L1931 255.6L1929.7 258.2L1931.8 259.1L1932.2 260.8L1932.6 262.5L1933.7 263.9L1933.3 266.1L1934.3 267.5L1935.6 268.9L1937.6 269.7L1937.2 272L1936.8 274.4L1940.9 272.8L1940.4 275.6L1941.7 276.9L1943.3 277.8L1944.7 278.9L1946.1 280L1947.5 280.9L1952.1 276.6L1952.1 279.8L1954.8 278.7L1954.2 283.1L1953.5 287.6L1957.6 283.9L1958.4 286L1959.9 286.8L1961.5 287.6L1962.9 288.5L1965.1 287.6L1965 292.9L1968.8 287.2L1970.1 288.6L1970.8 292.2L1972.4 292.8L1975 290L1976.5 291.1L1978.5 289.5L1979.7 291.8L1981.4 291.9L1982.9 293.9L1984.4 294.9L1986.5 292.7L1987.8 295.7L1990 292.4L1991.2 296L1993.2 293.9L1995.6 290.4L1996.3 296L1998.1 295.7L1999.5 297.2L2001.4 296.7L2003.1 296.9L2004.6 297.7L2006.6 297L2008.4 296.9L2010 297.7L2010.8 299.8L2010.5 303.3L2014.6 300.3L2015.4 304.4L2017.4 302.6L2018.9 301L2020.9 302.7L2022.9 304.7L2024.1 300.6L2025.7 299.1L2027.8 302.2L2029.4 302L2031 299.7L2032.7 299.9L2034.5 296.9L2036 303.7L2037.8 300.6L2039.5 300.7L2041.2 300.9L2043.2 295.8L2044.6 300.2L2046.5 297.5L2047.8 302.9L2049.5 303.2L2051.7 299L2053 301.8L2054.5 303.7L2056.7 299.9L2058.4 300.4L2059.9 301.6L2061.5 305L2063.3 303.8L2065.1 305.5L2066.8 304.8L2068.5 304L2070 300.8L2071.9 302.8L2073.6 303.2L2075 297.8L2076.8 299.3L2078.6 302.8L2080.1 303.8L2082 301.3L2083.6 302.5L2085 304.3L2086.7 304.4L2088.9 302L2090.1 305.1L2092.4 301.8L2093.1 310.4L2095.5 303.9L2097.3 300.9L2098.7 308.4L2100.6 304.2L2102.4 301.2L2103.9 307.3L2105.6 305.4L2107.5 302.3L2109 306.3L2111 301.1L2112.6 302.9L2114.3 303.8L2115.8 305.6L2117.4 307.1L2119.2 305.9L2121.2 303.5L2122.9 303.7L2124.5 304.9L2125.3 311.8L2127.6 307.2L2129.4 306.9L2131 307.7L2132.7 307.8L2134.1 309.7L2136.2 307.6L2137.8 308.3L2139.6 308L2141.3 307.9L2142.9 309.3L2144.6 308.3L2146.4 306.7L2148 307.8L2149.7 308.3L2151.4 308.9L2153.1 308.7L2154.7 312.2L2156.3 312.7L2157.9 312.1L2160.2 307.2L2162.2 306.2L2162.8 312.7L2165.3 308.7L2166.8 309.8L2168.2 311.4L2170 311.4L2172.3 307.5L2173.4 311.7L2174.5 315.3L2176.9 311.1L2178.6 311.3L2179.7 315.4L2181.9 312.8L2183.3 314.6L2185.3 312.5L2186.7 315.1L2188.6 313.4L2190.3 313.5L2191.8 316.4L2193.5 316.1L2195.3 315.7L2197.2 313.3L2198.8 314.2L2200.3 316.1L2202.3 314.4L2204 314.4L2205.7 314.7L2206.6 318.8L2208.9 316.2L2210.8 315.8L2214.3 309.7L2214.2 316.6L2215.8 317.3L2217.2 318.4L2218.7 319.3L2220.7 319L2222.2 319.8L2223.6 320.7L2225.8 320.4L2226 323.5L2229.6 321.1L2228.7 325.7L2231.4 324.8L2232.1 326.8L2234.8 326.1L2234.6 329.3L2235.8 330.5L2237.1 331.5L2239 331.9L2239.9 333.5L2240.8 335L2241.2 336.8L2243.1 337.4L2244.9 338.1L2244.9 340.4L2247.4 340.6L2247.6 342.6L2248.6 343.9L2249.3 345.5L2250.4 346.8L2251.1 348.3L2252.3 349.6L2253.2 351.1L2254 352.6L2252.7 355.1L2256 355.5L2256.8 357L2256.9 358.8L2257.4 360.4L2256.6 362.6L2258.7 363.6L2258.7 365.4L2259 367.2L2259.9 368.7L2263.6 369.1L2260.5 372L2263 372.9L2261.9 375.2L2262.7 376.7L2264.1 378L2264 379.8L2263.9 381.7L2264.6 383.3L2265.1 384.9L2266.2 386.3L2267.5 387.6L2268.3 389.2L2267.5 391.2L2268.5 392.7L2268.8 394.4L2270.3 395.7L2270.6 397.4L2271 399.1L2271.3 400.8L2271.1 402.6L2272.1 404.1L2271.8 405.9L2272.4 407.5L2273.6 409L2274.7 410.4L2274.2 412.4L2275.4 413.8L2275.9 415.4L2276.3 417.1L2276.4 418.8L2276.5 420.6L2277.2 422L2274.8 421.9L2274.3 420.3L2273.3 418.8L2273.1 417.1L2273.2 415.3L2273.5 413.3L2271.5 412.3L2270.5 410.8L2269.3 409.5L2269.3 407.6L2268.8 405.9L2267.6 404.6L2267.9 402.6L2267 401.2L2267 399.3L2265.2 398.1L2265.2 396.3L2265.3 394.5L2263.5 393.3L2263.5 391.5L2262.7 390L2263.5 387.9L2262.6 386.4L2261.5 385L2261 383.3L2260.6 381.7L2260.4 379.9L2256.9 379.4L2259.4 376.6L2258.3 375.2L2256.9 373.9L2257.9 371.7L2256.9 370.2L2255.7 368.9L2254.7 367.5L2252.9 366.4L2253.7 364.1L2252.6 362.7L2252.6 360.8L2250.9 359.7L2249.6 358.6L2250.4 356.1L2248.7 355.1L2247.5 353.8L2247.6 351.6L2244.7 351.6L2245.1 349.1L2243.7 347.9L2242.9 346.1L2240.1 346.8L2238.2 346.5L2237.8 344.2L2236.4 343.1L2235.6 341.2L2233.5 341.4L2231.4 341.6L2229.6 341.3L2226.3 344L2227.4 338.2L2225.9 337.3L2224 337.3L2221.8 338.2L2221 335.6L2218.9 336.4L2218.1 333.7L2215.6 336L2214.8 332.3L2213.5 329.8L2211.3 332.5L2209.4 333.3L2207.8 332.3L2205.9 333.9L2204.3 333.6L2202.8 329.9L2200.5 341L2199.2 332.9L2197.5 333.4L2195.8 332.3L2194.2 329.4L2192.4 331.5L2190.7 331.6L2189.1 330L2187.4 329.8L2185.7 330.5L2184.2 328.1L2182.2 330.5L2180.5 330.1L2178.2 334.2L2177.5 327.4L2174.3 335.7L2173.9 328.6L2172.2 328.4L2169.1 333.2L2168.7 328.4L2166.5 329L2164.7 328.7L2164.6 324.8L2162.7 324.7L2162.4 321.2L2159.8 322.7L2156.9 326L2156.8 319.8L2154.6 322.4L2152.6 324.5L2151.7 317.5L2149.5 321.9L2148.1 317.5L2145.9 323.6L2144.4 320.9L2142.5 323.2L2141 320.4L2139.1 323.4L2137.5 320.4L2135.8 320.7L2134.1 321.1L2132.3 323.3L2130.7 319.5L2129 319.3L2127.2 321.5L2125.6 320.4L2123.9 319.6L2122 321.7L2120.6 319.2L2118.9 318.3L2117.4 316.9L2115.5 318.1L2113.9 316.3L2112 318.9L2110.3 314.9L2108.6 319.6L2106.9 316.1L2105.1 318.1L2103.4 321.1L2101.7 316.2L2100 318.7L2098.3 316.6L2096.6 315.9L2094.9 318.4L2093.3 316.5L2091.5 318.6L2089.5 320.6L2087.2 324.4L2086 320.8L2084.7 317.3L2083 317L2081.3 317.3L2079.7 314.6L2077.9 315.9L2076 315.4L2074.5 317.5L2072.9 318.5L2071.1 318.3L2068.9 314.8L2067.6 317.9L2066 318.6L2064.3 318.3L2062.6 317L2061.1 316.3L2058.9 321.1L2057.6 317.8L2055.6 319.2L2053.9 319.1L2052.7 316.2L2051.1 315.5L2049.3 315.7L2047.2 317.8L2046 314.2L2044 316.2L2042 317.6L2041 312L2038.6 317.2L2037.5 312.6L2035.6 314L2033.9 314.3L2033 310.4L2030.1 315.2L2027.7 316.2L2026.7 313.8L2025.4 312.4L2023.7 311.7L2023.1 309.1L2022.3 306.5L2019.8 307.7L2018.1 307L2016.1 311.1L2014.7 308.4L2013.1 309L2011.4 309.4L2009.5 306.3L2007.9 308.2L2006 310.3L2004.4 309L2002.7 309L2001.2 306.5L1999.3 307.8L1997.5 308.6L1995.3 312.5L1994.2 307.2L1992.3 308.5L1991 305.7L1989.2 305.9L1987.6 305.3L1986 304.4L1984 306.2L1982.5 304.6L1980.6 306L1978.9 305.3L1977 306.2L1975.9 303.3L1973.9 304.3L1973 300.5L1970.6 303.2L1969.7 299.8L1968.2 299.1L1965.7 301.9L1964.3 300.4L1963.2 298.3L1961.3 298.8L1959.7 298.2L1957.2 300.3L1954.8 301.5L1953.4 300.2L1952.6 297.6L1952 294.7L1949.7 295.7L1948.9 293.6L1948.2 291.5L1944.7 294.1L1943.5 292.8L1941.9 292L1940.2 291.2L1939.8 289.2L1939.6 287.2L1937.7 286.6L1937.8 284.5L1934.7 284.5L1935.5 281.9L1934.3 280.7L1932.8 279.5L1932.4 277.8L1932.2 275.9L1931.2 274.5L1929.1 273.7L1928.8 272L1928.4 270.2L1927.8 268.6L1925.2 267.9L1925.7 265.8L1924.5 264.5L1923.6 263L1924.2 261L1923.6 259.4L1923 257.9L1922.2 256.3L1921.4 254.8L1920.6 253.2L1921.1 251.3L1920.9 249.6L1920.3 247.9L1920.5 246.2L1919.6 244.6L1919.4 242.9L1919.2 241.2L1918.6 239.6L1918.3 237.9L1917.6 236.3L1917.9 234.5L1917 232.9L1916.7 231.2L1916.4 229.6L1916.6 227.8L1915.5 226.2L1915.2 224.6L1915.2 222.8L1914.2 221.3L1913.7 219.6L1914.3 217.8L1914.5 216.1L1914 214.4L1913.7 212.7L1913.5 211L1913.3 209.3L1912.7 207.7L1913.1 205.9L1912.7 204.2L1912.5 202.5L1912 200.9L1912.3 199.1L1912 197.4L1912.1 195.7L1911.7 194L1911.4 192.3L1911.6 190.6L1910.8 189L1911.3 187.2L1911.3 185.5L1910.4 183.8L1910.5 182.1L1910.3 180.4L1910.1 178.7L1910.1 177L1909.7 175.3L1909.7 173.6L1910.3 171.8L1909.3 170.2L1909.2 168.5L1909 166.8L1909.2 165.1L1909.2 163.4L1908.8 161.7L1908 160L1908.3 158.3L1908.6 156.6L1908.3 154.9L1908.3 153.1L1907.5 151.5L1908.1 149.7L1907.6 148.1L1907.1 146.4L1907.7 144.6L1907.1 143L1907.8 141.2L1906.9 139.6L1906.5 137.9L1906.3 136.2L1906.8 134.4L1906.5 132.7L1905.9 131.1L1905.8 129.4L1905.5 127.7L1904.7 126L1905.4 124.2L1906 122.5L1905 120.8L1904.3 119.2L1905.5 117.4L1905.2 115.7L1904.6 114L1905.1 112.3L1904.4 110.6L1904.3 108.9L1903.4 107.3L1903.9 105.5L1903.7 103.8L1903.6 102.1L1902.9 100.5L1903.2 98.7L1903.1 97L1902.9 95.3L1902.8 93.6L1902.3 91.9L1903 90.2L1902.6 88.5L1902.1 86.8L1901.9 85.1L1901.8 83.4L1901.9 81.7L1901.7 80L1901.9 78.2L1900.4 76.6L1901.5 74.8L1900.5 73.2L1900.3 71.5L1900.9 69.7L1900.5 68.1L1900.5 66.4L1900 64.7L1900.7 62.9L1900.1 61.2L1900 59.5L1899.5 57.9L1899.7 56.1L1899.7 54.4L1899.6 52.7L1898.8 51.1L1899.7 49.3L1899.3 47.6L1899.3 45.9L1898.6 44.2L1898.2 42.5L1898.1 40.8L1898.2 39.1L1898.1 37.4L1897.7 35.7L1897.6 34Z" fill="#32aa6a" stroke="#32aa6a" stroke-width="1.4" stroke-linejoin="round"/>
<path d="M1865 32.6V423.4M2346.5 32.6V423.4" fill="none" stroke="#2a2a2a" stroke-width="3.3"/>
<path d="M1863.6 34H2347.9M1863.6 422H2347.9" fill="none" stroke="#0a0a0a" stroke-width="3.3"/>
<path d="M1865 373.5h3.6M1865 325h7.6M1865 276.5h3.6M1865 228h7.6M1865 179.5h3.6M1865 131h7.6M1865 82.5h3.6M1961.3 422v-7.4M2057.6 422v-3.6M2153.9 422v-7.4M2250.2 422v-3.6" fill="none" stroke="#222" stroke-width="2.7"/>
<g font-family="'Liberation Serif', 'DejaVu Serif', serif" font-weight="700" font-size="32.5" fill="#000" stroke="#000" stroke-width="0.5" stroke-linejoin="round">
<text transform="translate(1855.5 433.2) scale(1 1.055)" text-anchor="end">0</text>
<text transform="translate(1855.5 336.2) scale(1 1.055)" text-anchor="end">2000</text>
<text transform="translate(1855.5 239.2) scale(1 1.055)" text-anchor="end">4000</text>
<text transform="translate(1855.5 142.2) scale(1 1.055)" text-anchor="end">6000</text>
<text transform="translate(1855.5 45.2) scale(1 1.055)" text-anchor="end">8000</text>
<text transform="translate(1960.7 456.9) scale(1 1.05)" text-anchor="middle">0.1</text>
<text transform="translate(2153.3 456.9) scale(1 1.05)" text-anchor="middle">0.2</text>
<text transform="translate(2345.9 456.9) scale(1 1.05)" text-anchor="middle">0.3</text>
<text x="2105.8" y="492" text-anchor="middle" textLength="158.5" lengthAdjust="spacingAndGlyphs">True strain</text>
</g>
<g font-family="'Liberation Serif', 'DejaVu Serif', serif" font-weight="700" font-size="29" fill="#000" stroke="#000" stroke-width="0.7" stroke-linejoin="round" text-anchor="middle">
<text x="1961.3" y="377.4">I</text>
<text x="2082" y="381.9">II</text>
<text x="2190" y="379">IV</text>
</g>
<line x1="1930.9" y1="66" x2="1979.3" y2="66" stroke="#32aa6a" stroke-width="3"/>
<g font-family="'Liberation Serif', 'DejaVu Serif', serif" fill="#000" stroke="#000" stroke-width="0.55" stroke-linejoin="round">
<text x="1989.3" y="81.6" font-size="45" textLength="152.6" lengthAdjust="spacingAndGlyphs">103.4μm</text>
<text x="2336" y="80.2" text-anchor="end" font-size="51.5">(d)</text>
</g>
</g>
</svg>
</div>
</body>
</html>
